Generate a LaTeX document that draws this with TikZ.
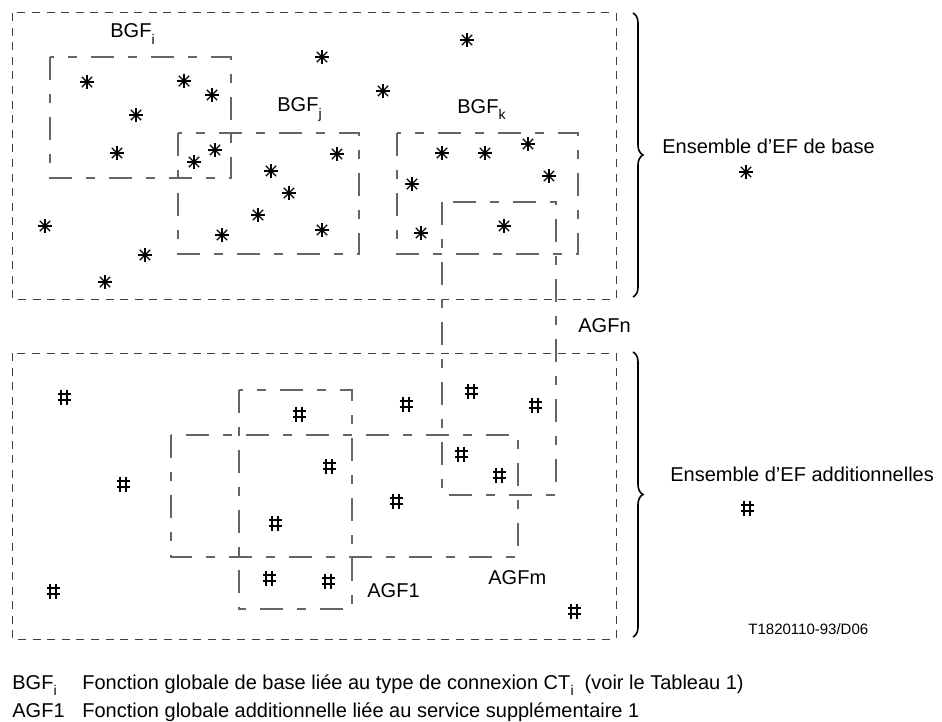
\documentclass[tikz,border=0pt]{standalone}
\usepackage{fontspec}
\setmainfont{Liberation Sans}
\usepackage{graphicx}
\usetikzlibrary{decorations.pathreplacing}

% lowered subscript as used in the labels
\newcommand\lowsub[1]{\raisebox{-0.32em}{\fontsize{7}{8}\selectfont #1}}

\tikzset{
  setbox/.style={draw=black!75, line width=0.5pt, dash pattern=on 4pt off 3.3pt},
  groupbox/.style={draw=black!60, line width=0.55pt,
    dash pattern=on 11.5pt off 7pt on 4.5pt off 7pt},
  lbl/.style={anchor=base west, inner sep=0pt, font=\fontsize{10}{12}\selectfont},
  setbrace/.style={draw=black, decorate, decoration={brace, amplitude=5pt}, line width=0.8pt},
  astk/.pic={
    \draw[line width=1.1pt] (-7,0) -- (7,0) (0,-7) -- (0,7);
    \draw[line width=0.6pt] (-5.2,-5.2) -- (5.2,5.2) (-5.2,5.2) -- (5.2,-5.2);
  },
  hsh/.pic={
    \draw[line width=1.1pt] (-2.9,-7.5) -- (-2.9,7.5) (2.9,-7.5) -- (2.9,7.5);
    \draw[line width=1.05pt] (-6.5,-2.6) -- (6.5,-2.6) (-6.5,2.6) -- (6.5,2.6);
  },
}

\begin{document}
\begin{tikzpicture}[x=0.5pt, y=-0.5pt]
  \useasboundingbox (0,0) rectangle (942,722);

  % the two sets of elementary functions
  \draw[setbox] (12,13) rectangle (616,299);
  \draw[setbox] (12,353) rectangle (616,639);

  % basic global functions
  \draw[groupbox] (50,57) rectangle (231,178);
  \draw[groupbox] (178,133) rectangle (359,254);
  \draw[groupbox] (397,133) rectangle (578,254);

  % additional global functions
  \draw[groupbox] (442,202) rectangle (556,495);
  \draw[groupbox] (239,390) rectangle (352,609);
  \draw[groupbox] (171,435) rectangle (518,557);

  % braces
  \draw[setbrace] (633,13) -- (633,297);
  \draw[setbrace] (633,352) -- (633,637);

  % basic elementary functions
  \foreach \p in {(322,57),(467,40),(87,82),(184,81),(212,95),(136,115),(383,91),
                  (117,153),(215,150),(194,162),(271,171),(289,193),(337,154),
                  (258,215),(222,235),(322,230),(45,226),(145,255),(105,282),
                  (442,153),(485,153),(528,144),(549,176),(412,184),(421,233),
                  (504,226),(746,172)}
    \pic at \p {astk};

  % additional elementary functions
  \foreach \p in {(64,397),(123,484),(53,591),(299,414),(275,523),(269,578),
                  (406,404),(471,391),(535,405),(329,466),(461,454),(499,475),
                  (396,501),(328,581),(574,611),(747,508)}
    \pic at \p {hsh};

  % labels
  \node[lbl] (bgfi) at (110,38) {BGF\lowsub{i}};
  \node[lbl] (bgfj) at (277,112) {BGF\lowsub{j}};
  \node[lbl] (bgfk) at (457,113) {BGF\lowsub{k}};
  \node[lbl] (agfn) at (578,332) {AGFn};
  \node[lbl] (agf1) at (367,597) {AGF1};
  \node[lbl] (agfm) at (488,584) {AGFm};
  \node[lbl] (base) at (662,154) {Ensemble d’EF de base};
  \node[lbl] (addi) at (670,481) {Ensemble d’EF additionnelles};
  \node[anchor=base west, inner sep=0pt, font=\fontsize{7.5}{9}\selectfont]
    (ref) at (748,634) {T1820110-93/D06};

  % legend
  \node[lbl] (k1) at (12,689) {BGF\lowsub{i}};
  \node[lbl] (d1) at (82,689)
    {Fonction globale de base liée au type de connexion CT\lowsub{i}\ \ (voir le Tableau 1)};
  \node[lbl] (k2) at (12,717) {AGF1};
  \node[lbl] (d2) at (82,717)
    {Fonction globale additionnelle liée au service supplémentaire 1};
\end{tikzpicture}
\end{document}
